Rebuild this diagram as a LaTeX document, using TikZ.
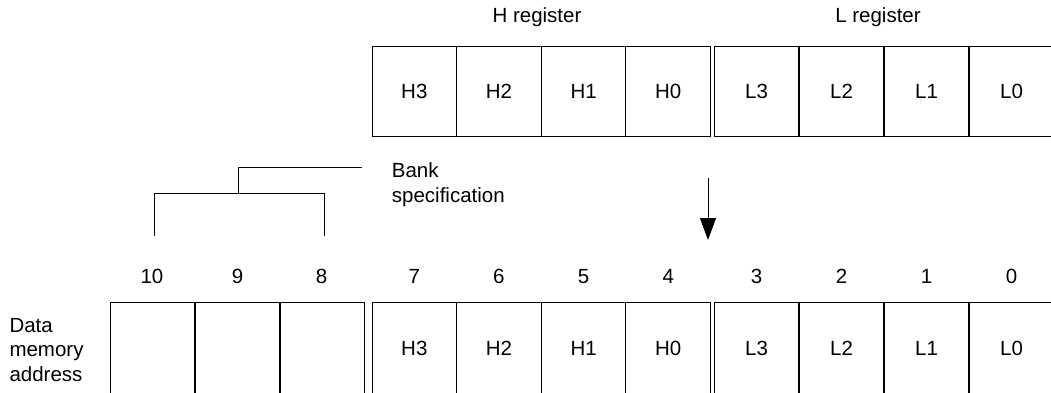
\documentclass[tikz,border=0pt]{standalone}
\usepackage{fontspec}
\setmainfont{Liberation Sans}
\usetikzlibrary{arrows.meta}
\begin{document}
\begin{tikzpicture}[x=1pt,y=-1pt,
  every node/.style={font=\fontsize{20.5}{24.5}\selectfont, inner sep=0pt},
  cell/.style={draw=black, line width=0.9pt, minimum width=84.6pt, minimum height=90pt, anchor=center},
  lowcell/.style={cell, minimum height=92pt},
  bitnum/.style={anchor=base},
  wire/.style={draw=black, line width=0.9pt},
  label/.style={align=left, anchor=north west}
]
\useasboundingbox (0,0) rectangle (1051,392);
\clip (0,0) rectangle (1051,392);
% headers
\node[anchor=base] (hreg) at (537,22.7) {H register};
\node[anchor=base] (lreg) at (878,22.7) {L register};
% top register cells
\node[cell] (t7) at (414.3,91) {H3};
\node[cell] (t6) at (498.9,91) {H2};
\node[cell] (t5) at (583.6,91) {H1};
\node[cell] (t4) at (668.2,91) {H0};
\node[cell] (t3) at (756.5,91) {L3};
\node[cell] (t2) at (841.5,91) {L2};
\node[cell] (t1) at (926.5,91) {L1};
\node[cell] (t0) at (1011.5,91) {L0};
% bottom cells
\node[lowcell] (b10) at (152.5,348) {};
\node[lowcell] (b9) at (237.5,348) {};
\node[lowcell] (b8) at (322.5,348) {};
\node[lowcell] (b7) at (414.3,348) {H3};
\node[lowcell] (b6) at (498.9,348) {H2};
\node[lowcell] (b5) at (583.6,348) {H1};
\node[lowcell] (b4) at (668.2,348) {H0};
\node[lowcell] (b3) at (756.5,348) {L3};
\node[lowcell] (b2) at (841.5,348) {L2};
\node[lowcell] (b1) at (926.5,348) {L1};
\node[lowcell] (b0) at (1011.5,348) {L0};
% bit numbers
\node[bitnum] (n10) at (152,283.3) {10};
\node[bitnum] (n9) at (237.5,283.3) {9};
\node[bitnum] (n8) at (321.5,283.3) {8};
\node[bitnum] (n7) at (414.3,283.3) {7};
\node[bitnum] (n6) at (498.9,283.3) {6};
\node[bitnum] (n5) at (583.6,283.3) {5};
\node[bitnum] (n4) at (668.2,283.3) {4};
\node[bitnum] (n3) at (756.5,283.3) {3};
\node[bitnum] (n2) at (841.5,283.3) {2};
\node[bitnum] (n1) at (926.5,283.3) {1};
\node[bitnum] (n0) at (1011.5,283.3) {0};
% labels
\node[label] (bank) at (391.7,162.5) {Bank\\specification};
\node[label] (dma) at (9.3,317.8) {Data\\memory\\address};
% bank bracket
\coordinate (bl) at (154,236);
\coordinate (blt) at (154,193);
\coordinate (brt) at (324,193);
\coordinate (br) at (324,236);
\coordinate (bm) at (238,193);
\coordinate (bt) at (362,167);
\draw[wire] (bl) -- (blt) -- (brt) -- (br);
\draw[wire] (bm) |- (bt);
% arrow
\coordinate (as) at (708,178);
\coordinate (ae) at (708,240);
\draw[wire, -{Triangle[length=22pt,width=16pt]}] (as) -- (ae);
\end{tikzpicture}
\end{document}
